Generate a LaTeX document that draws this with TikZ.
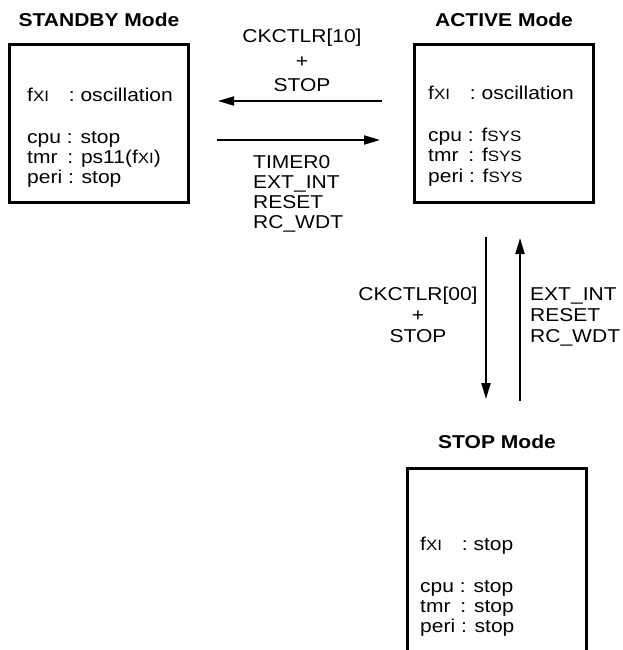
\documentclass[tikz,border=0pt]{standalone}
\usepackage{fontspec}
\setmainfont{Liberation Sans}[FakeStretch=1.13]
\usetikzlibrary{arrows.meta, positioning}
\newcommand{\fxi}{f{\fontsize{15}{15}\selectfont XI}}
\newcommand{\fsys}{f{\fontsize{15}{15}\selectfont SYS}}

\begin{document}
\begin{tikzpicture}[
    x=1pt, y=-1pt,
    % ---------------------------------------------------------
    % ESTILOS BASE
    % ---------------------------------------------------------
    modebox/.style={
        rectangle,
        draw=black,
        line width=3pt,
        minimum width=179pt,
        minimum height=#1,
        inner sep=0pt,
        anchor=north west
    },
    modebox/.default=158pt,
    modetitle/.style={
        font=\fontsize{18.6}{20}\selectfont\bfseries,
        inner sep=0pt
    },
    boxtext/.style={
        font=\fontsize{18.6}{20}\selectfont,
        inner sep=0pt,
        anchor=base west
    },
    cond/.style={
        font=\fontsize{18.6}{20}\selectfont,
        inner sep=0pt
    },
    trans/.style={
        line width=2pt,
        -{Triangle[length=16pt, width=9pt]}
    }
]
\useasboundingbox (0,0) rectangle (622,650);
\clip (0,0) rectangle (622,650);

% ---------------------------------------------------------
% 1. MODOS (cajas y titulos)
% ---------------------------------------------------------
\node[modebox] (standby) at (8,43) {};
\node[modebox] (active) at (413,43) {};
\node[modebox=200pt] (stopm) at (406,467) {};

\node[modetitle, above=16pt of standby] (standbyT) {STANDBY Mode};
\node[modetitle, above=16pt of active] (activeT) {ACTIVE Mode};
\node[modetitle, above=18pt of stopm] (stopmT) {STOP Mode};

% ---------------------------------------------------------
% 2. ESTADO DE RELOJES
% ---------------------------------------------------------
\node[boxtext] (standbyTx) at (27,102) {\begin{tabular}[t]{@{}l@{}}
    \fxi\hspace{14pt} : oscillation\\[22pt]
    cpu : stop\\
    tmr\hspace{4pt} : ps11(\fxi)\\
    peri : stop
\end{tabular}};
\node[boxtext] (activeTx) at (428,100) {\begin{tabular}[t]{@{}l@{}}
    \fxi\hspace{14pt} : oscillation\\[22pt]
    cpu : \fsys\\
    tmr\hspace{4pt} : \fsys\\
    peri : \fsys
\end{tabular}};
\node[boxtext] (stopmTx) at (420,550) {\begin{tabular}[t]{@{}l@{}}
    \fxi\hspace{14pt} : stop\\[22pt]
    cpu : stop\\
    tmr\hspace{4pt} : stop\\
    peri : stop
\end{tabular}};

% ---------------------------------------------------------
% 3. TRANSICIONES
% ---------------------------------------------------------
\coordinate (toSbS) at (382,101);
\coordinate (toSbE) at (218,101);
\coordinate (toActS) at (217,140);
\coordinate (toActE) at (380,140);
\coordinate (toStpS) at (486,237);
\coordinate (toStpE) at (486,399);
\coordinate (fromStpS) at (520,401);
\coordinate (fromStpE) at (520,238);

\draw[trans] (toSbS) -- (toSbE);
\draw[trans] (toActS) -- (toActE);
\draw[trans] (toStpS) -- (toStpE);
\draw[trans] (fromStpS) -- (fromStpE);

% ---------------------------------------------------------
% 4. CONDICIONES
% ---------------------------------------------------------
\node[cond, anchor=base] (lblToSb) at (302,43) {\begin{tabular}[t]{@{}c@{}}
    CKCTLR[10]\\[4.5pt] +\\[4.5pt] STOP
\end{tabular}};
\node[cond, anchor=base west] (lblToAct) at (253,168) {\begin{tabular}[t]{@{}l@{}}
    TIMER0\\ EXT\_INT\\ RESET\\ RC\_WDT
\end{tabular}};
\node[cond, anchor=base] (lblToStp) at (418,300) {\begin{tabular}[t]{@{}c@{}}
    CKCTLR[00]\\[1pt] +\\[1pt] STOP
\end{tabular}};
\node[cond, anchor=base west] (lblFromStp) at (530,300) {\begin{tabular}[t]{@{}l@{}}
    EXT\_INT\\[1pt] RESET\\[1pt] RC\_WDT
\end{tabular}};

\end{tikzpicture}
\end{document}
